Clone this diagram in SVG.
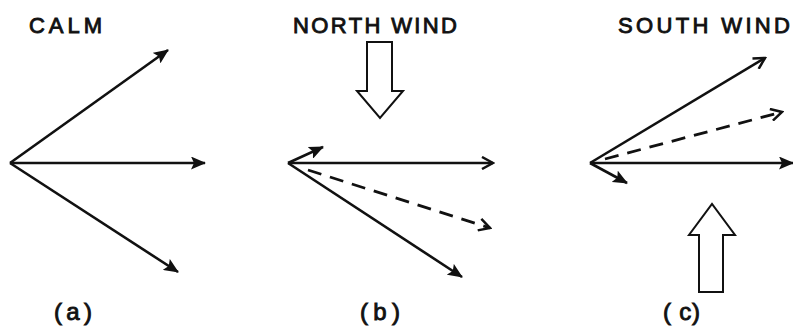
<svg xmlns="http://www.w3.org/2000/svg" width="793" height="327" viewBox="0 0 793 327">
<style>
.t{font-family:"Liberation Sans",Arial,sans-serif;font-size:22px;fill:#111;stroke:#111;stroke-width:0.9}
.b{font-size:24px}
.v{stroke:#111;stroke-width:2.6;fill:none}
.d{stroke:#111;stroke-width:2.8;fill:none;stroke-dasharray:14,9}
.w{stroke:#111;stroke-width:2;fill:#fff;stroke-linejoin:miter}
</style>
<defs>
<marker id="f" viewBox="0 0 15 13" refX="14" refY="6.5" markerWidth="15" markerHeight="13" markerUnits="userSpaceOnUse" orient="auto"><path d="M0,0 L15,6.5 L0,13 L3,6.5 Z" fill="#111"/></marker>
<marker id="o" viewBox="0 0 14 14" refX="12" refY="7" markerWidth="14" markerHeight="14" markerUnits="userSpaceOnUse" orient="auto"><path d="M1,1 L12,7 L1,13" fill="none" stroke="#111" stroke-width="2.5"/></marker>
</defs>
<g id="labels">
<text class="t" x="29" y="33" textLength="73" lengthAdjust="spacing">CALM</text>
<text class="t" x="293" y="33" textLength="164" lengthAdjust="spacing">NORTH WIND</text>
<text class="t" x="618" y="33" textLength="172" lengthAdjust="spacing">SOUTH WIND</text>
<text class="t b" x="54" y="320" textLength="38" lengthAdjust="spacing">(a)</text>
<text class="t b" x="360" y="320" textLength="40" lengthAdjust="spacing">(b)</text>
<text class="t b" x="663" y="320" textLength="37" lengthAdjust="spacing">( c)</text>
</g>
<g id="wind-arrows">
<path id="north-wind" class="w" d="M367,42 L392,42 L392,91 L403,91 L380,118 L357,91 L367,91 Z"/>
<path id="south-wind" class="w" d="M699,292 L723,292 L723,235 L735,235 L712,204 L689,235 L699,235 Z"/>
</g>
<g id="connectors">
<line class="v" x1="10" y1="163" x2="168" y2="50" marker-end="url(#f)"/>
<line class="v" x1="10" y1="163" x2="205" y2="163" marker-end="url(#f)"/>
<line class="v" x1="10" y1="163" x2="178" y2="272" marker-end="url(#f)"/>
<line class="v" x1="288" y1="163" x2="323" y2="147" marker-end="url(#f)"/>
<line class="v" x1="288" y1="163" x2="493" y2="163" marker-end="url(#o)"/>
<line class="d" x1="308" y1="170" x2="490" y2="228" marker-end="url(#o)"/>
<line class="v" x1="288" y1="163" x2="462" y2="277" marker-end="url(#f)"/>
<line class="v" x1="590" y1="163" x2="765" y2="58" marker-end="url(#o)"/>
<line class="d" x1="605" y1="159" x2="782" y2="112" marker-end="url(#o)"/>
<line class="v" x1="590" y1="163" x2="793" y2="163" marker-end="url(#f)"/>
<line class="v" x1="590" y1="163" x2="627" y2="183" marker-end="url(#f)"/>
</g>
</svg>
